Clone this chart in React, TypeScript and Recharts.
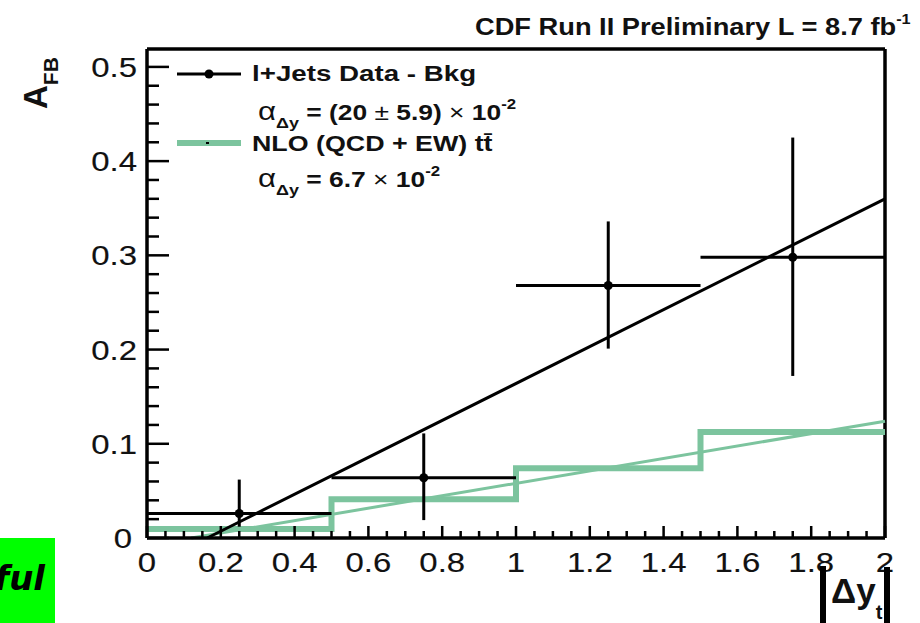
import React from 'react';
import { ComposedChart, Line, Scatter, ErrorBar, XAxis, YAxis, ReferenceLine } from 'recharts';

// ---- data ----
const binCenters = [0.25, 0.75, 1.25, 1.75];
const binHalfWidths = [0.25, 0.25, 0.25, 0.25];
const dataValues = [0.026, 0.064, 0.268, 0.298];
const dataErrLow = [0.014, 0.045, 0.067, 0.126];
const dataErrHigh = [0.036, 0.047, 0.068, 0.127];

const nloEdges = [0, 0.5, 1, 1.5, 2];
const nloValues = [0.0096, 0.041, 0.074, 0.1125, 0.1125];

const dataFitX = [0.163, 2];
const dataFitY = [0, 0.36];
const nloFitX = [0.12, 2];
const nloFitY = [0, 0.124];

const xMajorTicks = [0, 0.2, 0.4, 0.6, 0.8, 1, 1.2, 1.4, 1.6, 1.8, 2];
const yMajorTicks = [0, 0.1, 0.2, 0.3, 0.4, 0.5];
const xAllTicks = [
  0, 0.05, 0.1, 0.15, 0.2, 0.25, 0.3, 0.35, 0.4, 0.45, 0.5, 0.55, 0.6, 0.65, 0.7, 0.75, 0.8, 0.85, 0.9, 0.95,
  1, 1.05, 1.1, 1.15, 1.2, 1.25, 1.3, 1.35, 1.4, 1.45, 1.5, 1.55, 1.6, 1.65, 1.7, 1.75, 1.8, 1.85, 1.9, 1.95, 2,
];
const yAllTicks = [
  0, 0.02, 0.04, 0.06, 0.08, 0.1, 0.12, 0.14, 0.16, 0.18, 0.2, 0.22, 0.24, 0.26, 0.28, 0.3, 0.32, 0.34, 0.36,
  0.38, 0.4, 0.42, 0.44, 0.46, 0.48, 0.5,
];

const Y_MAX = 0.519;
const GREEN = '#7cc49e';
const FONT = '"Liberation Sans", Arial, Helvetica, sans-serif';

const dataPoints = binCenters.map((x, i) => ({
  x,
  y: dataValues[i],
  ex: binHalfWidths[i],
  ey: [dataErrLow[i], dataErrHigh[i]],
}));
const nloStep = nloEdges.map((x, i) => ({ x, y: nloValues[i] }));
const dataFit = dataFitX.map((x, i) => ({ x, y: dataFitY[i] }));
const nloFit = nloFitX.map((x, i) => ({ x, y: nloFitY[i] }));

const isMajor = (list: number[], v: number) => list.some((t) => Math.abs(t - v) < 1e-6);
const fmt = (v: number) => String(+v.toFixed(2));

const XTick = (props: any) => {
  const x = Number(props.x);
  const y = Number(props.y);
  const v = Number(props.payload.value);
  const major = isMajor(xMajorTicks, v);
  return (
    <g>
      <rect x={x - 1.25} y={y - (major ? 12 : 7)} width={2.5} height={major ? 12 : 7} fill="#000" />
      {major && (
        <text
          transform={`translate(${x},${y + 34}) scale(1.22,1)`}
          textAnchor="middle"
          fontSize={27}
          fontFamily={FONT}
          fill="#111"
          stroke="#111"
          strokeWidth={0.15}
        >
          {fmt(v)}
        </text>
      )}
    </g>
  );
};

const YTick = (props: any) => {
  const x = Number(props.x);
  const y = Number(props.y);
  const v = Number(props.payload.value);
  const major = isMajor(yMajorTicks, v);
  return (
    <g>
      <rect x={x} y={y - 1.25} width={major ? 22 : 12} height={2.5} fill="#000" />
      {major && (
        <text
          transform={`translate(${x - (v === 0 ? 15 : 10)},${y + 10}) scale(1.22,1)`}
          textAnchor="end"
          fontSize={27}
          fontFamily={FONT}
          fill="#111"
          stroke="#111"
          strokeWidth={0.15}
        >
          {fmt(v)}
        </text>
      )}
    </g>
  );
};

const Dot = (props: any) => {
  const { cx, cy } = props;
  return <circle cx={cx} cy={cy} r={4.5} fill="#000" />;
};

export default function App() {
  return (
    <div style={{ position: 'absolute', left: 0, top: 0, width: 920, height: 623, background: '#fff' }}>
      <ComposedChart width={920} height={623} margin={{ top: 49, right: 35, bottom: 45, left: 87 }}>
        <XAxis
          type="number"
          dataKey="x"
          domain={[0, 2]}
          ticks={xAllTicks}
          interval={0}
          tick={<XTick />}
          tickLine={false}
          axisLine={{ stroke: '#000', strokeWidth: 3.5 }}
          tickSize={0}
          tickMargin={0}
          height={40}
        />
        <YAxis
          type="number"
          dataKey="y"
          domain={[0, Y_MAX]}
          ticks={yAllTicks}
          interval={0}
          tick={<YTick />}
          tickLine={false}
          axisLine={{ stroke: '#000', strokeWidth: 3.5 }}
          tickSize={0}
          tickMargin={0}
          width={60}
        />
        <ReferenceLine x={2} stroke="#000" strokeWidth={3.5} ifOverflow="visible" />
        <ReferenceLine y={Y_MAX} stroke="#000" strokeWidth={3.5} ifOverflow="visible" />
        <Line
          data={nloStep}
          dataKey="y"
          type="stepAfter"
          stroke={GREEN}
          strokeWidth={6}
          dot={false}
          isAnimationActive={false}
        />
        <Line
          data={nloFit}
          dataKey="y"
          type="linear"
          stroke={GREEN}
          strokeWidth={3}
          dot={false}
          isAnimationActive={false}
        />
        <Line
          data={dataFit}
          dataKey="y"
          type="linear"
          stroke="#000"
          strokeWidth={3}
          dot={false}
          isAnimationActive={false}
        />
        <Scatter data={dataPoints} dataKey="y" shape={<Dot />} fill="#000" isAnimationActive={false}>
          <ErrorBar dataKey="ex" direction="x" width={0} stroke="#000" strokeWidth={3} />
          <ErrorBar dataKey="ey" direction="y" width={0} stroke="#000" strokeWidth={3} />
        </Scatter>
      </ComposedChart>
      <svg
        width={920}
        height={623}
        style={{ position: 'absolute', left: 0, top: 0, pointerEvents: 'none' }}
      >
        {/* title */}
        <text
          transform="translate(475,35) scale(1.16,1)"
          fontSize={23.5}
          fontWeight="bold"
          fontFamily={FONT}
          fill="#111"
        >
          CDF Run II Preliminary L = 8.7 fb
          <tspan dy={-11} fontSize={14}>-1</tspan>
        </text>

        {/* legend */}
        <line x1={177} y1={74} x2={241} y2={74} stroke="#000" strokeWidth={3} />
        <circle cx={209} cy={74} r={4.5} fill="#000" />
        <text transform="translate(252,81) scale(1.26,1)" fontSize={22} fontWeight="bold" fontFamily={FONT} fill="#111">
          l+Jets Data - Bkg
        </text>
        <text transform="translate(258,120) scale(1.2,1)" fontSize={22} fontWeight="bold" fontFamily={FONT} fill="#111">
          <tspan fontWeight="normal" fontSize={26}>α</tspan>
          <tspan dy={8} fontSize={15}>Δy</tspan>
          <tspan dy={-8}> = (20 </tspan>
          <tspan fontWeight="normal">±</tspan>
          <tspan> 5.9) </tspan>
          <tspan fontWeight="normal">×</tspan>
          <tspan> 10</tspan>
          <tspan dy={-11} fontSize={14}>-2</tspan>
        </text>
        <rect x={177} y={140} width={64} height={6} fill={GREEN} />
        <rect x={206} y={142} width={3} height={2} fill="#000" />
        <text transform="translate(252,151) scale(1.22,1)" fontSize={22} fontWeight="bold" fontFamily={FONT} fill="#111">
          NLO (QCD + EW) tt̄
        </text>
        <text transform="translate(258,187) scale(1.2,1)" fontSize={22} fontWeight="bold" fontFamily={FONT} fill="#111">
          <tspan fontWeight="normal" fontSize={26}>α</tspan>
          <tspan dy={8} fontSize={15}>Δy</tspan>
          <tspan dy={-8}> = 6.7 </tspan>
          <tspan fontWeight="normal">×</tspan>
          <tspan> 10</tspan>
          <tspan dy={-11} fontSize={14}>-2</tspan>
        </text>

        {/* y axis title */}
        <text transform="translate(47,109) rotate(-90)" fontSize={33} fontWeight="bold" fontFamily={FONT} fill="#111">
          A<tspan dy={11} fontSize={21}>FB</tspan>
        </text>

        {/* x axis title */}
        <rect x={820} y={566} width={6} height={57} fill="#000" />
        <rect x={884} y={567} width={6} height={56} fill="#000" />
        <text x={831} y={603} fontSize={35} fontWeight="bold" fontFamily={FONT} fill="#111">
          Δy<tspan dy={16} fontSize={20}>t</tspan>
        </text>

        {/* green corner box */}
        <rect x={0} y={538} width={55} height={85} fill="#00ff00" />
        <text
          x={45}
          y={590}
          textAnchor="end"
          fontSize={34}
          fontWeight="bold"
          fontStyle="italic"
          fontFamily='"DejaVu Sans", sans-serif'
          fill="#000"
        >
          ful
        </text>
      </svg>
    </div>
  );
}
